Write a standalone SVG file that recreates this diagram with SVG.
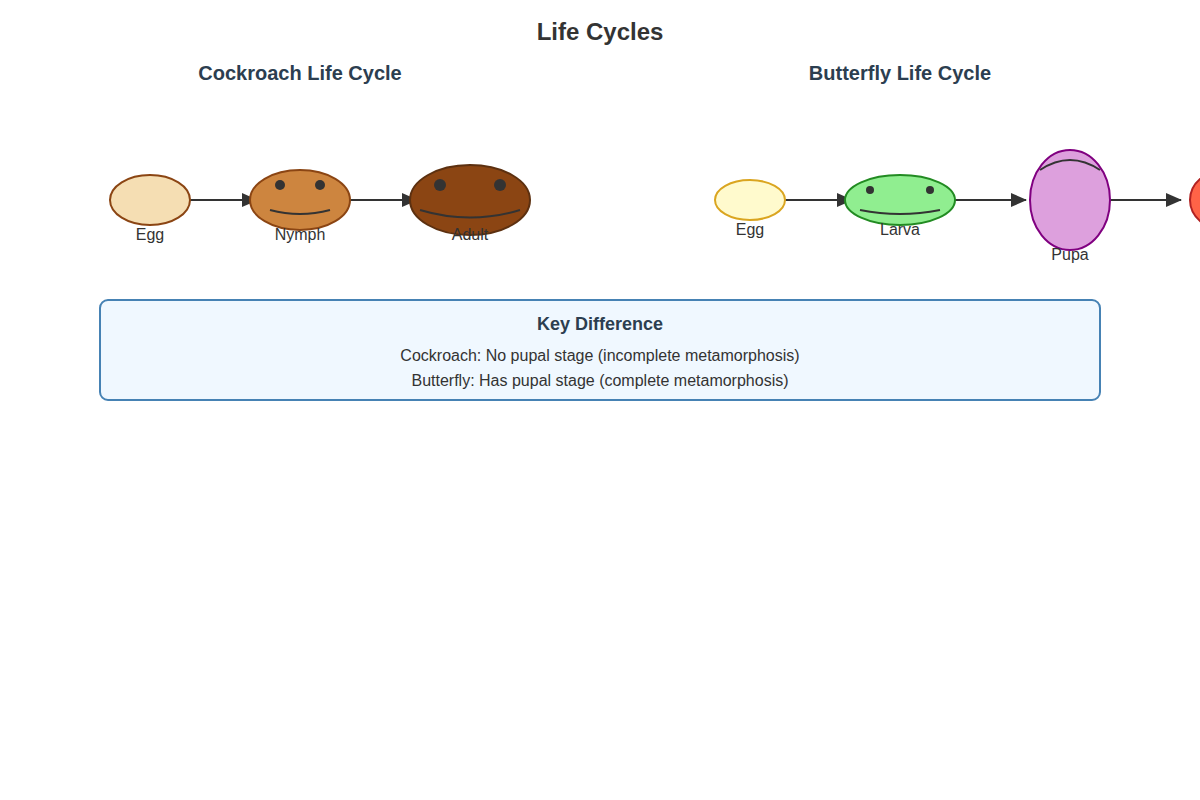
<svg xmlns="http://www.w3.org/2000/svg" width="1200" height="800" viewBox="0 0 1200 800">
<style>
text{font-family:"Liberation Sans",Arial,sans-serif;fill:#333}
.h{font-weight:bold;fill:#2c3e50;font-size:20px}
.lbl{font-size:16px}
.c{stroke:#333;stroke-width:2;fill:none}
.eye{fill:#333}
</style>
<defs><marker id="a" markerWidth="16" markerHeight="14" refX="15" refY="7" orient="auto" markerUnits="userSpaceOnUse"><path d="M0,0L16,7L0,14z" fill="#333"/></marker></defs>
<rect width="1200" height="800" fill="#fff"/>
<text x="600" y="40" text-anchor="middle" style="font-size:24px;font-weight:bold">Life Cycles</text>
<text class="h" x="300" y="80" text-anchor="middle">Cockroach Life Cycle</text>
<text class="h" x="900" y="80" text-anchor="middle">Butterfly Life Cycle</text>
<g id="connectors">
<line class="c" x1="190" y1="200" x2="257" y2="200" marker-end="url(#a)"/>
<line class="c" x1="350" y1="200" x2="417" y2="200" marker-end="url(#a)"/>
<line class="c" x1="785" y1="200" x2="852" y2="200" marker-end="url(#a)"/>
<line class="c" x1="955" y1="200" x2="1026" y2="200" marker-end="url(#a)"/>
<line class="c" x1="1110" y1="200" x2="1181" y2="200" marker-end="url(#a)"/>
</g>
<g id="c-egg"><ellipse cx="150" cy="200" rx="40" ry="25" fill="#f5deb3" stroke="#8b4513" stroke-width="2"/><text class="lbl" x="150" y="240" text-anchor="middle">Egg</text></g>
<g id="c-nymph"><ellipse cx="300" cy="200" rx="50" ry="30" fill="#cd853f" stroke="#8b4513" stroke-width="2"/><circle class="eye" cx="280" cy="185" r="5"/><circle class="eye" cx="320" cy="185" r="5"/><path class="c" d="M270,210 Q300,218 330,210"/><text class="lbl" x="300" y="240" text-anchor="middle">Nymph</text></g>
<g id="c-adult"><ellipse cx="470" cy="200" rx="60" ry="35" fill="#8b4513" stroke="#5c3010" stroke-width="2"/><circle class="eye" cx="440" cy="185" r="6"/><circle class="eye" cx="500" cy="185" r="6"/><path class="c" d="M420,210 Q470,225 520,210"/><text class="lbl" x="470" y="240" text-anchor="middle">Adult</text></g>
<g id="b-egg"><ellipse cx="750" cy="200" rx="35" ry="20" fill="#fffacd" stroke="#daa520" stroke-width="2"/><text class="lbl" x="750" y="235" text-anchor="middle">Egg</text></g>
<g id="b-larva"><ellipse cx="900" cy="200" rx="55" ry="25" fill="#90ee90" stroke="#228b22" stroke-width="2"/><circle class="eye" cx="870" cy="190" r="4"/><circle class="eye" cx="930" cy="190" r="4"/><path class="c" d="M860,210 Q900,218 940,210"/><text class="lbl" x="900" y="235" text-anchor="middle">Larva</text></g>
<g id="b-pupa"><ellipse cx="1070" cy="200" rx="40" ry="50" fill="#dda0dd" stroke="#800080" stroke-width="2"/><path class="c" d="M1040,170 Q1070,150 1100,170"/><text class="lbl" x="1070" y="260" text-anchor="middle">Pupa</text></g>
<g id="b-adult"><ellipse cx="1225" cy="200" rx="35" ry="30" fill="#ff6347" stroke="#b22222" stroke-width="2"/></g>
<g id="key"><rect x="100" y="300" width="1000" height="100" rx="8" fill="#f0f8ff" stroke="#4682b4" stroke-width="2"/>
<text x="600" y="330" text-anchor="middle" style="font-size:18px;font-weight:bold;fill:#2c3e50">Key Difference</text>
<text class="lbl" x="600" y="361" text-anchor="middle">Cockroach: No pupal stage (incomplete metamorphosis)</text>
<text class="lbl" x="600" y="386" text-anchor="middle">Butterfly: Has pupal stage (complete metamorphosis)</text></g>
</svg>
